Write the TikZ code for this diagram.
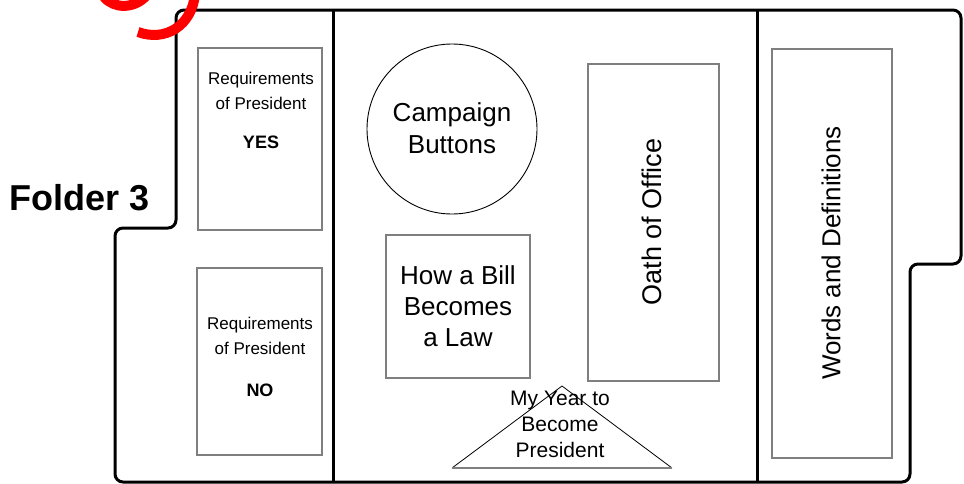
\documentclass[tikz,border=0pt]{standalone}
\usepackage{fontspec}
\setmainfont{Liberation Sans}
\definecolor{boxgray}{HTML}{7F7F7F}
\definecolor{markred}{HTML}{FF0000}
\begin{document}
\begin{tikzpicture}[x=1pt,y=-1pt,
  folder/.style={line width=3pt, rounded corners=8pt, line join=round},
  divider/.style={line width=3pt},
  gbox/.style={draw=boxgray, line width=1.5pt, inner sep=0pt},
  thin/.style={draw=black, line width=0.8pt},
  txt/.style={inner sep=0pt, align=center},
  big/.style={txt, font=\fontsize{26}{31}\selectfont},
  mid/.style={txt, font=\fontsize{21}{26}\selectfont},
  small/.style={txt, font=\fontsize{17}{24.5}\selectfont},
  tag/.style={txt, font=\fontsize{18}{20}\selectfont\bfseries},
  redmark/.style={draw=markred, line width=10pt}]
\useasboundingbox (0,0) rectangle (964,483);
\fill[white] (0,0) rectangle (964,483);

% folder outline
\draw[folder] (115,482) -- (115,228) -- (176,228) -- (176,10) -- (961,10)
  -- (961,264) -- (910,264) -- (910,482) -- cycle;
\draw[divider] (333,10) -- (333,483);
\draw[divider] (757,10) -- (757,483);

% red marks
\draw[redmark] (104,-3) .. controls (114,9) and (134,9) .. (146,-4);
\draw[redmark] (138,32) .. controls (165,42) and (192,26) .. (195,-6);

% label
\node[txt, font=\fontsize{36}{38}\selectfont\bfseries] (folder) at (80,198) {Folder 3};

% requirements boxes
\node[gbox, minimum width=124pt, minimum height=182pt] (yesbox) at (260,139) {};
\node[small] (yestext) at (261,91) {Requirements\\of President};
\node[tag] (yes) at (261,142) {YES};

\node[gbox, minimum width=125pt, minimum height=187pt] (nobox) at (259.5,361.5) {};
\node[small] (notext) at (260,336) {Requirements\\of President};
\node[tag] (no) at (260,390) {NO};

% campaign buttons
\node[draw=black, line width=0.9pt, circle, minimum size=170pt, inner sep=0pt] (circ) at (452,129) {};
\node[big, font=\fontsize{26}{32}\selectfont] (camp) at (452,128) {Campaign\\Buttons};

% how a bill
\node[gbox, minimum width=144pt, minimum height=143pt] (billbox) at (458,306.5) {};
\node[big] (bill) at (458,306) {How a Bill\\Becomes\\a Law};

% oath
\node[gbox, minimum width=131pt, minimum height=317pt] (oathbox) at (653.5,222.5) {};
\node[txt, font=\fontsize{27}{31}\selectfont, rotate=90] (oath) at (652,222) {Oath of Office};

% words
\node[gbox, minimum width=120pt, minimum height=409pt] (wordsbox) at (832,253.5) {};
\node[txt, font=\fontsize{26}{30}\selectfont, rotate=90] (words) at (831,253) {Words and Definitions};

% triangle
\coordinate (apex) at (562,386);
\coordinate (bl) at (452,468);
\coordinate (br) at (672,468);
\draw[thin] (bl) -- (apex) -- (br);
\draw[draw=boxgray, line width=1.5pt] (bl) -- (br);
\node[mid] (year) at (560,424) {My Year to\\Become\\President};
\end{tikzpicture}
\end{document}
